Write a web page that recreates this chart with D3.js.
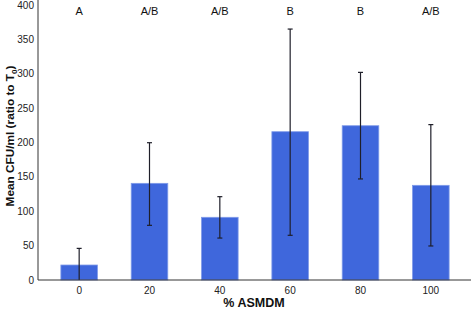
<!DOCTYPE html>
<html>
<head>
<meta charset="utf-8">
<script src="https://cdn.jsdelivr.net/npm/d3@7"></script>
<style>
  body { margin: 0; background: #fff; }
  svg { display: block; font-family: "Liberation Sans", Arial, sans-serif; }
</style>
</head>
<body>
<svg id="chart" width="471" height="309"></svg>
<script>
// --- Données ---
const categories = ["0", "20", "40", "60", "80", "100"];
const means = [21.8, 140.6, 91.2, 215.7, 224.4, 137.7];
const errLow = [0, 79.5, 61, 65, 147, 49.5];
const errHigh = [46, 199.7, 121.2, 365, 302, 226];
const groups = ["A", "A/B", "A/B", "B", "B", "A/B"];
const yTicks = [0, 50, 100, 150, 200, 250, 300, 350, 400];

const svg = d3.select("#chart");
const mLeft = 38, mRight = 471, mTop = 5, mBottom = 280;

const x = d3.scaleBand()
    .domain(categories)
    .range([44, 466])
    .paddingInner(0.48)
    .paddingOuter(0.24);

const y = d3.scaleLinear().domain([0, 400]).range([mBottom, mTop]);

// Barres
svg.append("g").selectAll("rect")
    .data(categories)
    .join("rect")
    .attr("x", d => x(d))
    .attr("width", x.bandwidth())
    .attr("y", (d, i) => y(means[i]))
    .attr("height", (d, i) => y(0) - y(means[i]))
    .attr("fill", "#3f67dc")
    .attr("stroke", "#7f9ae8")
    .attr("stroke-width", 0.8);

// Barres d'erreur
const err = svg.append("g").attr("stroke", "#1f1f2a").attr("stroke-width", 1.2);
categories.forEach((c, i) => {
    const cx = x(c) + x.bandwidth() / 2;
    err.append("line").attr("x1", cx).attr("x2", cx).attr("y1", y(errLow[i])).attr("y2", y(errHigh[i]));
    err.append("line").attr("x1", cx - 2.5).attr("x2", cx + 2.5).attr("y1", y(errHigh[i])).attr("y2", y(errHigh[i]));
    if (errLow[i] > 0)
        err.append("line").attr("x1", cx - 2.5).attr("x2", cx + 2.5).attr("y1", y(errLow[i])).attr("y2", y(errLow[i]));
});

// Axes
svg.append("line").attr("x1", mLeft).attr("x2", mLeft).attr("y1", 0).attr("y2", mBottom)
    .attr("stroke", "#333").attr("stroke-width", 1);
svg.append("line").attr("x1", mLeft).attr("x2", mRight).attr("y1", mBottom).attr("y2", mBottom)
    .attr("stroke", "#333").attr("stroke-width", 1);

svg.append("g").selectAll("text")
    .data(yTicks)
    .join("text")
    .attr("x", mLeft - 4)
    .attr("y", d => y(d))
    .attr("dy", "0.35em")
    .attr("text-anchor", "end")
    .attr("font-size", 10)
    .attr("fill", "#222")
    .text(d => d);

svg.append("g").selectAll("text")
    .data(categories)
    .join("text")
    .attr("x", d => x(d) + x.bandwidth() / 2)
    .attr("y", 294)
    .attr("text-anchor", "middle")
    .attr("font-size", 10)
    .attr("fill", "#222")
    .text(d => d);

// Lettres de groupes
svg.append("g").selectAll("text")
    .data(categories)
    .join("text")
    .attr("x", d => x(d) + x.bandwidth() / 2)
    .attr("y", 15)
    .attr("text-anchor", "middle")
    .attr("font-size", 11)
    .attr("fill", "#111")
    .text((d, i) => groups[i]);

// Titres
svg.append("text")
    .attr("x", 254)
    .attr("y", 307)
    .attr("text-anchor", "middle")
    .attr("font-size", 12.5)
    .attr("font-weight", "bold")
    .attr("fill", "#111")
    .text("% ASMDM");

const yt = svg.append("text")
    .attr("transform", "translate(14,136) rotate(-90)")
    .attr("text-anchor", "middle")
    .attr("font-size", 11.8)
    .attr("font-weight", "bold")
    .attr("fill", "#111");
yt.append("tspan").text("Mean CFU/ml (ratio to T");
yt.append("tspan").attr("font-size", 8).attr("dy", 3).text("0");
yt.append("tspan").attr("dy", -3).text(")");
</script>
</body>
</html>
